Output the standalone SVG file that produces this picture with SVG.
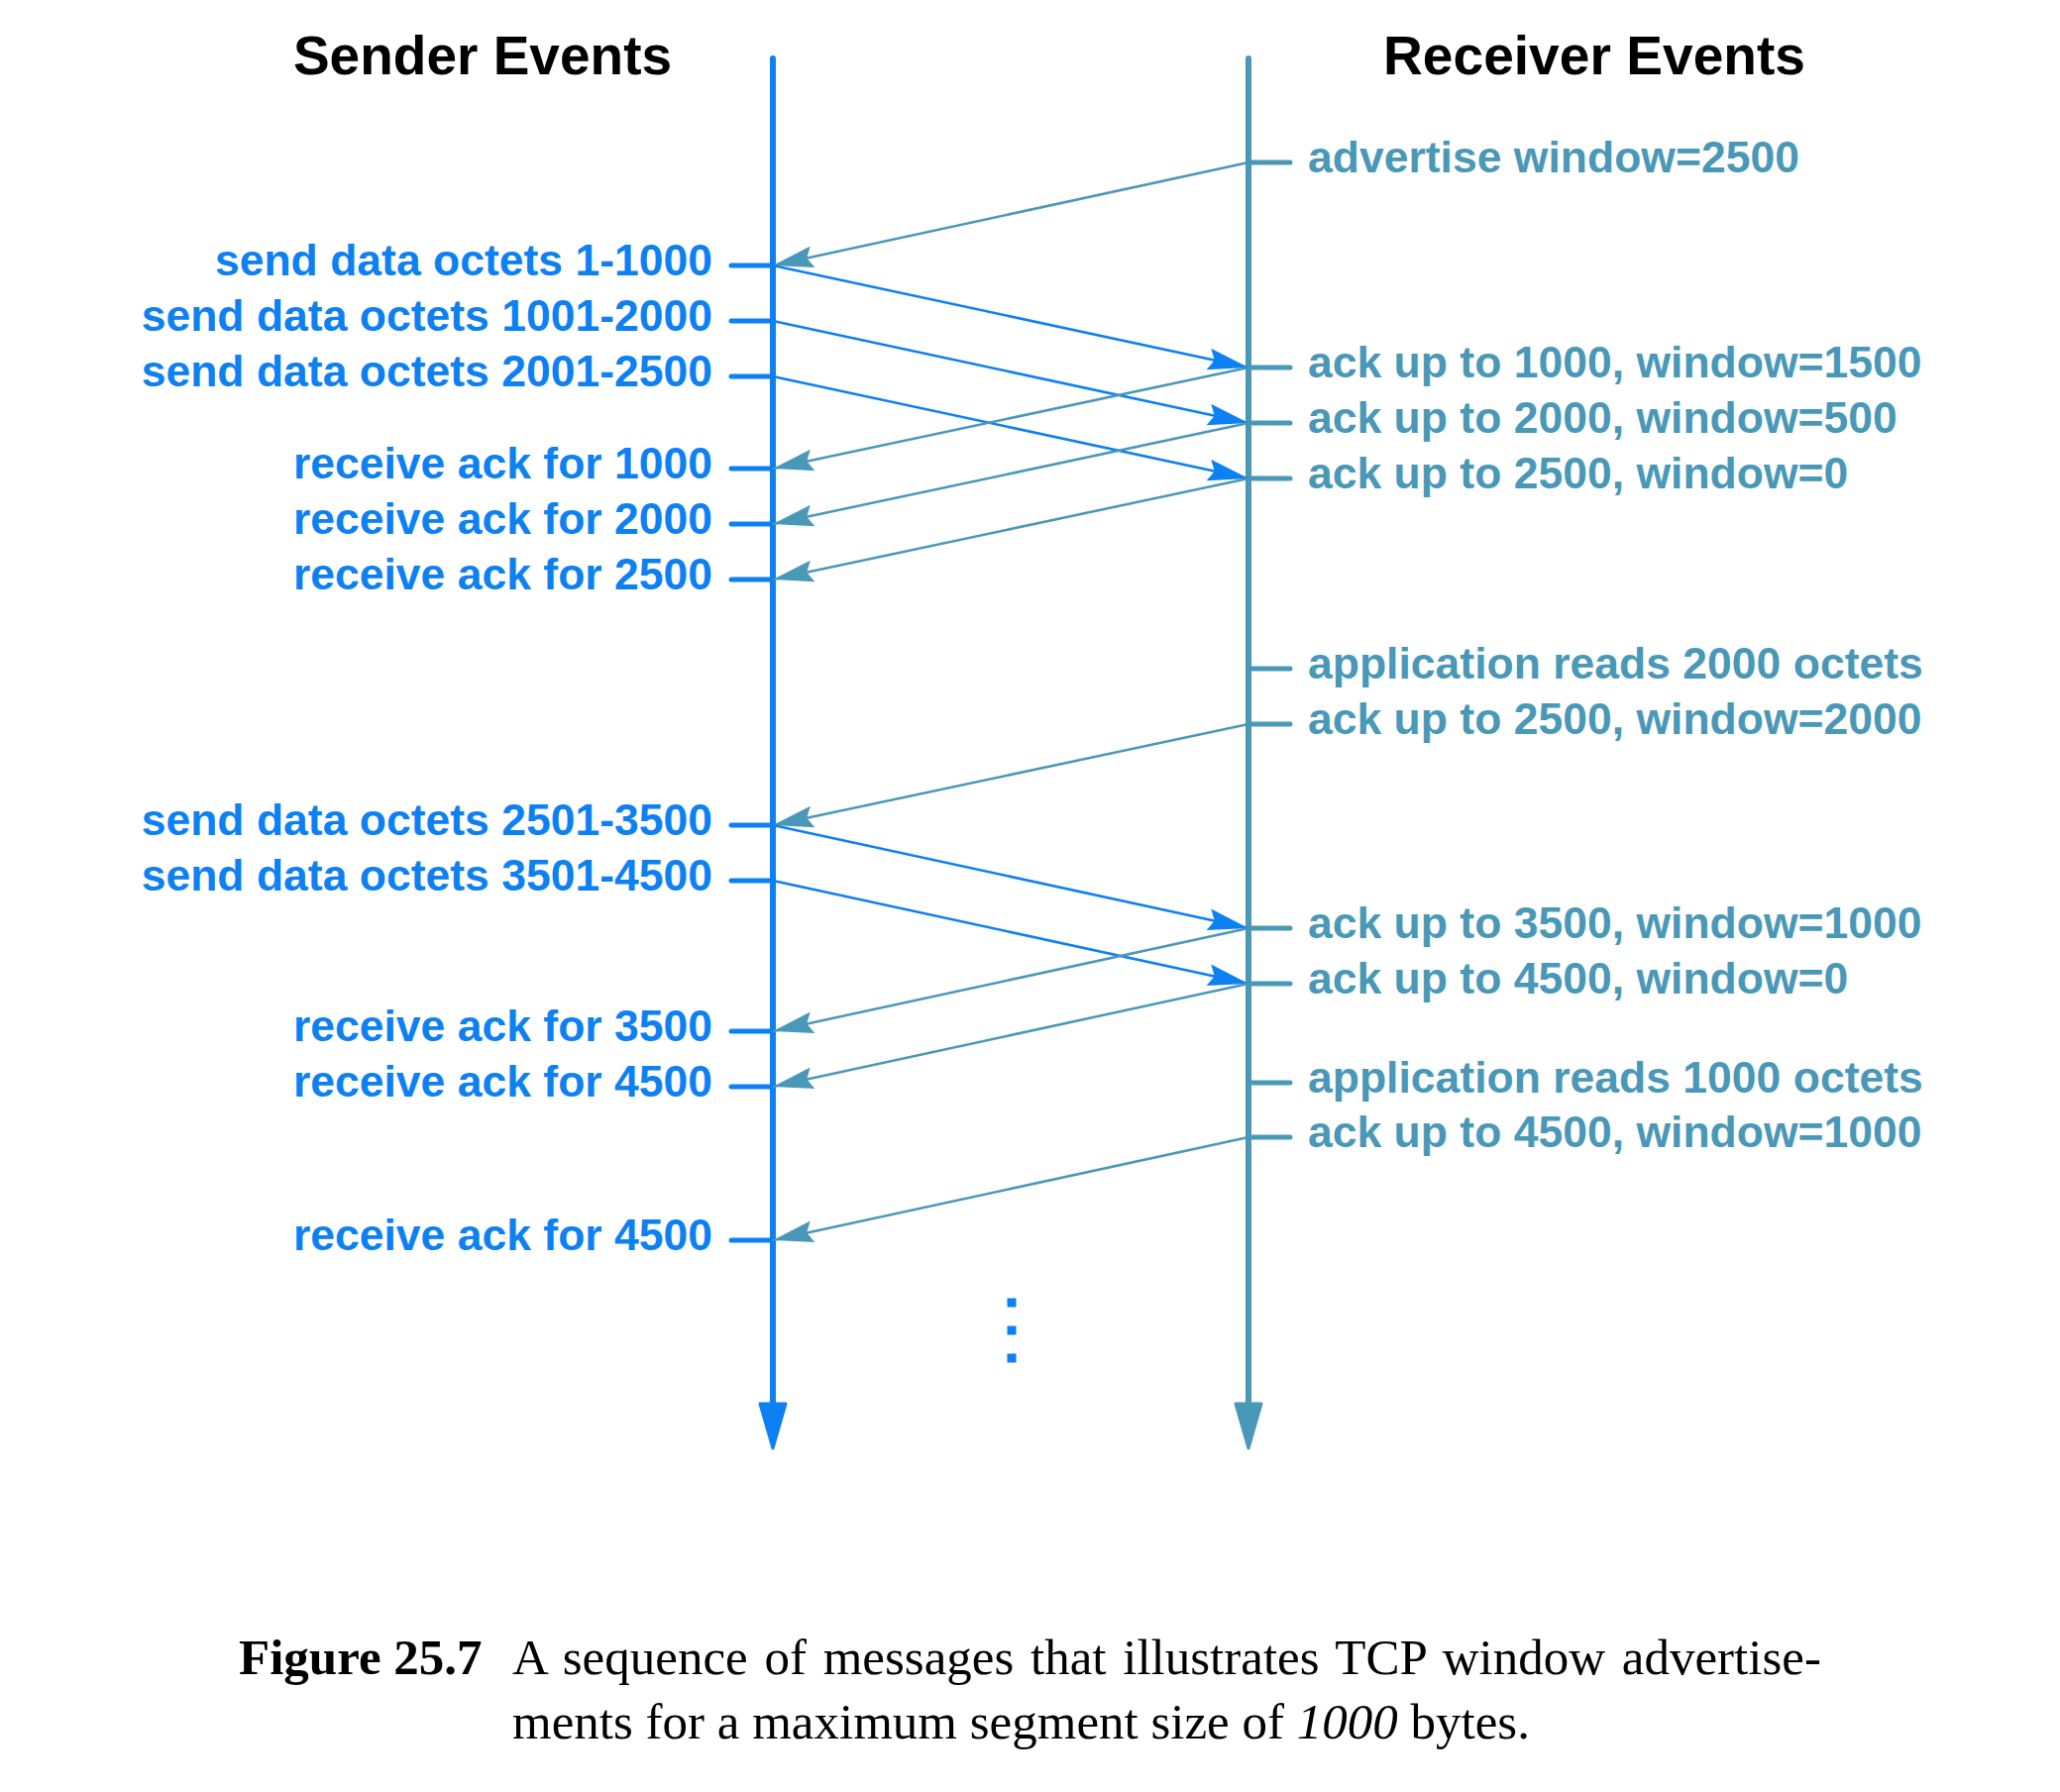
<svg xmlns="http://www.w3.org/2000/svg" width="2079" height="1809" viewBox="0 0 2079 1809">
<style>
.snd{fill:#0d80f2;font-family:"Liberation Sans",Arial,sans-serif;font-weight:bold;font-size:44.5px;text-anchor:end}
.rcv{fill:#4a98b7;font-family:"Liberation Sans",Arial,sans-serif;font-weight:bold;font-size:44.5px}
.title{fill:#000;font-family:"Liberation Sans",Arial,sans-serif;font-weight:bold;font-size:55px;text-anchor:middle}
.cap{fill:#000;font-family:"Liberation Serif","Times New Roman",serif;font-size:51px}
.stick{stroke:#0d80f2;stroke-width:5;stroke-linecap:round}
.rtick{stroke:#4a98b7;stroke-width:5;stroke-linecap:round}
.data{stroke:#0d80f2;stroke-width:2.5;fill:none;marker-end:url(#ahB)}
.ack{stroke:#4a98b7;stroke-width:2.5;fill:none;marker-end:url(#ahT)}
</style>
<defs>
<marker id="ahB" markerUnits="userSpaceOnUse" viewBox="-44 -13 46 26" refX="0" refY="0" markerWidth="46" markerHeight="26" orient="auto">
<path d="M0,0 L-41,-11 L-35,0 L-41,11 Z" fill="#0d80f2"/>
</marker>
<marker id="ahT" markerUnits="userSpaceOnUse" viewBox="-44 -13 46 26" refX="0" refY="0" markerWidth="46" markerHeight="26" orient="auto">
<path d="M0,0 L-41,-11 L-35,0 L-41,11 Z" fill="#4a98b7"/>
</marker>
</defs>
<rect width="2079" height="1809" fill="#fff"/>
<g id="sender-timeline">
<line x1="780" y1="59" x2="780" y2="1420" stroke="#0d80f2" stroke-width="6" stroke-linecap="round"/>
<path d="M767,1417 L793,1417 L780,1462 Z" fill="#0d80f2" stroke="#0d80f2" stroke-width="3" stroke-linejoin="round"/>
<text class="title" x="487" y="75">Sender Events</text>
</g>
<g id="receiver-timeline">
<line x1="1260" y1="59" x2="1260" y2="1420" stroke="#4a98b7" stroke-width="6" stroke-linecap="round"/>
<path d="M1247,1417 L1273,1417 L1260,1462 Z" fill="#4a98b7" stroke="#4a98b7" stroke-width="3" stroke-linejoin="round"/>
<text class="title" x="1609" y="75" textLength="426" lengthAdjust="spacingAndGlyphs">Receiver Events</text>
</g>
<g id="sender-events">
<g id="s1"><line class="stick" x1="738" y1="268" x2="780" y2="268"/><text class="snd" x="719" y="278">send data octets 1-1000</text></g>
<g id="s2"><line class="stick" x1="738" y1="324" x2="780" y2="324"/><text class="snd" x="719" y="334">send data octets 1001-2000</text></g>
<g id="s3"><line class="stick" x1="738" y1="380" x2="780" y2="380"/><text class="snd" x="719" y="390">send data octets 2001-2500</text></g>
<g id="s4"><line class="stick" x1="738" y1="473" x2="780" y2="473"/><text class="snd" x="719" y="483">receive ack for 1000</text></g>
<g id="s5"><line class="stick" x1="738" y1="529" x2="780" y2="529"/><text class="snd" x="719" y="539">receive ack for 2000</text></g>
<g id="s6"><line class="stick" x1="738" y1="585" x2="780" y2="585"/><text class="snd" x="719" y="595">receive ack for 2500</text></g>
<g id="s7"><line class="stick" x1="738" y1="833" x2="780" y2="833"/><text class="snd" x="719" y="843">send data octets 2501-3500</text></g>
<g id="s8"><line class="stick" x1="738" y1="889" x2="780" y2="889"/><text class="snd" x="719" y="899">send data octets 3501-4500</text></g>
<g id="s9"><line class="stick" x1="738" y1="1041" x2="780" y2="1041"/><text class="snd" x="719" y="1051">receive ack for 3500</text></g>
<g id="s10"><line class="stick" x1="738" y1="1097" x2="780" y2="1097"/><text class="snd" x="719" y="1107">receive ack for 4500</text></g>
<g id="s11"><line class="stick" x1="738" y1="1252" x2="780" y2="1252"/><text class="snd" x="719" y="1262">receive ack for 4500</text></g>
</g>
<g id="receiver-events">
<g id="r1"><line class="rtick" x1="1260" y1="164" x2="1302" y2="164"/><text class="rcv" x="1320" y="174">advertise window=2500</text></g>
<g id="r2"><line class="rtick" x1="1260" y1="371" x2="1302" y2="371"/><text class="rcv" x="1320" y="381">ack up to 1000, window=1500</text></g>
<g id="r3"><line class="rtick" x1="1260" y1="427" x2="1302" y2="427"/><text class="rcv" x="1320" y="437">ack up to 2000, window=500</text></g>
<g id="r4"><line class="rtick" x1="1260" y1="483" x2="1302" y2="483"/><text class="rcv" x="1320" y="493">ack up to 2500, window=0</text></g>
<g id="r5"><line class="rtick" x1="1260" y1="675" x2="1302" y2="675"/><text class="rcv" x="1320" y="685">application reads 2000 octets</text></g>
<g id="r6"><line class="rtick" x1="1260" y1="731" x2="1302" y2="731"/><text class="rcv" x="1320" y="741">ack up to 2500, window=2000</text></g>
<g id="r7"><line class="rtick" x1="1260" y1="937" x2="1302" y2="937"/><text class="rcv" x="1320" y="947">ack up to 3500, window=1000</text></g>
<g id="r8"><line class="rtick" x1="1260" y1="993" x2="1302" y2="993"/><text class="rcv" x="1320" y="1003">ack up to 4500, window=0</text></g>
<g id="r9"><line class="rtick" x1="1260" y1="1093" x2="1302" y2="1093"/><text class="rcv" x="1320" y="1103">application reads 1000 octets</text></g>
<g id="r10"><line class="rtick" x1="1260" y1="1148" x2="1302" y2="1148"/><text class="rcv" x="1320" y="1158">ack up to 4500, window=1000</text></g>
</g>
<g id="connectors">
<line class="ack" x1="1260" y1="164" x2="780" y2="268"/>
<line class="data" x1="780" y1="268" x2="1260" y2="371"/>
<line class="data" x1="780" y1="324" x2="1260" y2="427"/>
<line class="data" x1="780" y1="380" x2="1260" y2="483"/>
<line class="ack" x1="1260" y1="371" x2="780" y2="473"/>
<line class="ack" x1="1260" y1="427" x2="780" y2="529"/>
<line class="ack" x1="1260" y1="483" x2="780" y2="585"/>
<line class="ack" x1="1260" y1="731" x2="780" y2="833"/>
<line class="data" x1="780" y1="833" x2="1260" y2="937"/>
<line class="data" x1="780" y1="889" x2="1260" y2="993"/>
<line class="ack" x1="1260" y1="937" x2="780" y2="1041"/>
<line class="ack" x1="1260" y1="993" x2="780" y2="1097"/>
<line class="ack" x1="1260" y1="1148" x2="780" y2="1252"/>
</g>
<g id="ellipsis" fill="#0d80f2">
<rect x="1016.5" y="1310.5" width="9" height="9"/>
<rect x="1016.5" y="1338.5" width="9" height="9"/>
<rect x="1016.5" y="1366.5" width="9" height="9"/>
</g>
<g id="caption">
<text class="cap" x="241" y="1690" font-weight="bold">Figure 25.7</text>
<text class="cap" x="517" y="1690" word-spacing="4">A sequence of messages that illustrates TCP window advertise-</text>
<text class="cap" x="517" y="1755">ments for a maximum segment size of <tspan font-style="italic">1000</tspan> bytes.</text>
</g>
</svg>
